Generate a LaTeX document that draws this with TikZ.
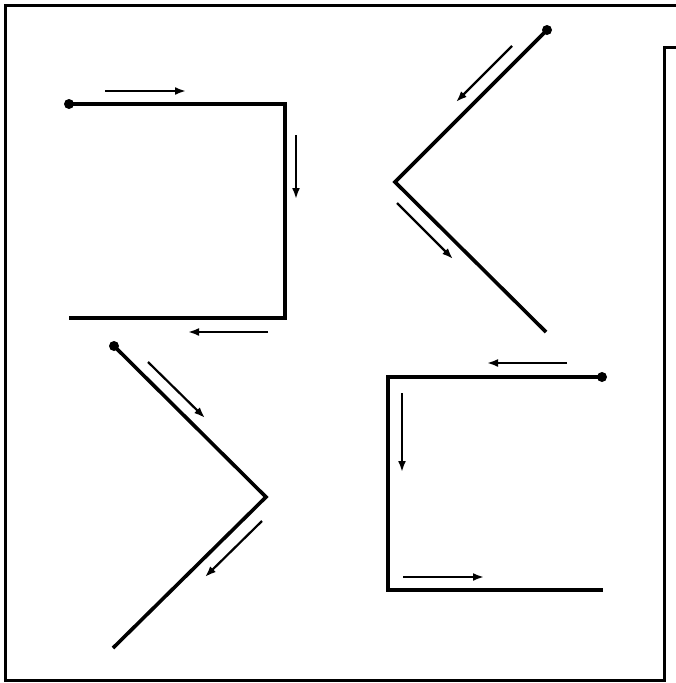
\documentclass[tikz,border=0pt]{standalone}
\usetikzlibrary{arrows.meta}
\begin{document}
\begin{tikzpicture}[x=1pt,y=-1pt,
  wire/.style={line width=3.6pt,line join=miter,black},
  flow/.style={line width=2.2pt,black,-{Latex[length=11pt,width=8pt]}},
  frame/.style={line width=3pt,black},
  enddot/.style={circle,fill=black,inner sep=0pt,minimum size=10pt}]
\useasboundingbox (0,0) rectangle (676,683);
% page frame
\coordinate (f1) at (676,5);
\coordinate (f2) at (5,5);
\coordinate (f3) at (5,680);
\coordinate (f4) at (664,680);
\coordinate (f5) at (664,47);
\coordinate (f6) at (676,47);
\draw[frame] (f1) -- (f2) -- (f3) -- (f4) -- (f5) -- (f6);
% shape 1: top-left square bracket
\node[enddot] (a0) at (69,104) {};
\coordinate (a1) at (285,104);
\coordinate (a2) at (285,318);
\coordinate (a3) at (69,318);
\draw[wire] (a0.center) -- (a1) -- (a2) -- (a3);
\coordinate (aa1) at (105,91); \coordinate (aa2) at (186,91);
\draw[flow] (aa1) -- (aa2);
\coordinate (ab1) at (296,135); \coordinate (ab2) at (296,199);
\draw[flow] (ab1) -- (ab2);
\coordinate (ac1) at (268,332); \coordinate (ac2) at (188,332);
\draw[flow] (ac1) -- (ac2);
% shape 2: top-right V
\node[enddot] (b0) at (547,30) {};
\coordinate (b1) at (395,182);
\coordinate (b2) at (546,332);
\draw[wire] (b0.center) -- (b1) -- (b2);
\coordinate (ba1) at (512,46); \coordinate (ba2) at (456,102);
\draw[flow] (ba1) -- (ba2);
\coordinate (bb1) at (397,203); \coordinate (bb2) at (453,259);
\draw[flow] (bb1) -- (bb2);
% shape 3: bottom-left V
\node[enddot] (c0) at (114,346) {};
\coordinate (c1) at (266,497);
\coordinate (c2) at (113,648);
\draw[wire] (c0.center) -- (c1) -- (c2);
\coordinate (ca1) at (148,362); \coordinate (ca2) at (205,418);
\draw[flow] (ca1) -- (ca2);
\coordinate (cb1) at (262,521); \coordinate (cb2) at (205,577);
\draw[flow] (cb1) -- (cb2);
% shape 4: bottom-right bracket
\node[enddot] (d0) at (602,377) {};
\coordinate (d1) at (388,377);
\coordinate (d2) at (388,590);
\coordinate (d3) at (603,590);
\draw[wire] (d0.center) -- (d1) -- (d2) -- (d3);
\coordinate (da1) at (567,363); \coordinate (da2) at (487,363);
\draw[flow] (da1) -- (da2);
\coordinate (db1) at (402,393); \coordinate (db2) at (402,472);
\draw[flow] (db1) -- (db2);
\coordinate (dc1) at (403,577); \coordinate (dc2) at (484,577);
\draw[flow] (dc1) -- (dc2);
\end{tikzpicture}
\end{document}
